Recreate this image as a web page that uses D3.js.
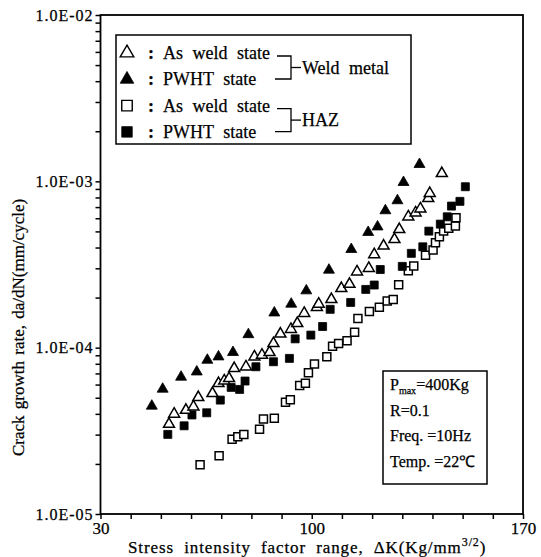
<!DOCTYPE html>
<html>
<head>
<meta charset="utf-8">
<script src="https://cdn.jsdelivr.net/npm/d3@7"></script>
<style>
  body { margin: 0; background: #fff; }
  svg text { font-family: "Liberation Serif", "Times New Roman", serif !important; fill: #000; stroke: #000; stroke-width: 0.25px; }
</style>
</head>
<body>
<svg id="chart" width="541" height="557" font-family="Liberation Serif, serif"></svg>
<script>
// weld metal, As weld state (open triangle)
const dkWeldAs = [52.7, 54.4, 58.3, 60.8, 62.4, 67.1, 69.1, 71.0, 72.6, 74.3, 78.2, 81.0, 83.5, 86.0, 87.3, 89.6, 93.1, 95.2, 97.5, 101.7, 102.3, 106.5, 109.8, 112.5, 115.0, 118.9, 120.7, 123.8, 127.4, 129.0, 132.0, 134.4, 136.0, 138.6, 139.1, 143.1]
const rateWeldAs = [3.47e-5, 3.99e-5, 4.21e-5, 4.41e-5, 5.02e-5, 5.31e-5, 6.10e-5, 6.32e-5, 6.53e-5, 7.51e-5, 7.68e-5, 8.82e-5, 9.03e-5, 9.37e-5, 1.06e-4, 1.21e-4, 1.29e-4, 1.40e-4, 1.61e-4, 1.75e-4, 1.83e-4, 1.95e-4, 2.27e-4, 2.41e-4, 2.86e-4, 3.00e-4, 3.63e-4, 4.09e-4, 4.48e-4, 5.14e-4, 6.12e-4, 6.47e-4, 6.84e-4, 7.90e-4, 8.47e-4, 1.117e-3]

// weld metal, PWHT state (filled triangle)
const dkWeldPwht = [47.0, 50.6, 56.7, 61.9, 65.4, 69.1, 73.9, 79.0, 87.6, 93.2, 98.2, 105.7, 113.1, 118.7, 121.8, 124.4, 128.4, 130.4, 135.7]
const rateWeldPwht = [4.46e-5, 5.64e-5, 6.66e-5, 7.16e-5, 8.42e-5, 8.82e-5, 9.37e-5, 1.20e-4, 1.62e-4, 1.83e-4, 2.20e-4, 2.93e-4, 3.90e-4, 4.94e-4, 5.33e-4, 6.67e-4, 7.66e-4, 9.86e-4, 1.265e-3]

// HAZ, As weld state (open square)
const dkHazAs = [63.0, 69.3, 73.6, 75.5, 77.5, 82.7, 84.0, 87.6, 91.3, 92.9, 96.0, 97.9, 98.9, 100.9, 105.0, 106.9, 108.9, 111.7, 114.2, 115.3, 119.1, 122.4, 125.0, 127.0, 128.8, 132.0, 133.8, 137.7, 140.2, 141.0, 142.3, 143.7, 145.4, 147.6, 147.8]
const rateHazAs = [1.98e-5, 2.24e-5, 2.81e-5, 2.91e-5, 3.01e-5, 3.23e-5, 3.72e-5, 3.76e-5, 4.69e-5, 4.86e-5, 5.93e-5, 6.10e-5, 7.06e-5, 7.97e-5, 8.82e-5, 1.02e-4, 1.06e-4, 1.10e-4, 1.24e-4, 1.50e-4, 1.65e-4, 1.75e-4, 1.91e-4, 1.95e-4, 2.39e-4, 2.90e-4, 3.10e-4, 3.60e-4, 3.86e-4, 4.27e-4, 4.64e-4, 5.02e-4, 5.22e-4, 5.38e-4, 6.04e-4]

// HAZ, PWHT state (filled square)
const dkHazPwht = [52.3, 57.7, 60.3, 65.2, 69.7, 73.3, 76.1, 77.9, 81.5, 87.3, 92.6, 94.5, 99.7, 103.6, 106.1, 112.9, 117.9, 120.7, 122.7, 130.0, 133.0, 136.8, 138.8, 142.6, 144.9, 146.3, 149.1, 150.9]
const rateHazPwht = [3.01e-5, 3.39e-5, 3.94e-5, 4.06e-5, 4.84e-5, 5.77e-5, 5.61e-5, 6.30e-5, 7.68e-5, 8.23e-5, 8.62e-5, 1.13e-4, 1.19e-4, 1.34e-4, 1.70e-4, 1.87e-4, 2.24e-4, 2.38e-4, 2.95e-4, 3.08e-4, 3.69e-4, 4.04e-4, 5.02e-4, 5.53e-4, 6.12e-4, 7.10e-4, 7.58e-4, 9.28e-4]

const xTicks = [30, 40, 50, 60, 70, 80, 90, 100, 110, 120, 130, 140, 150, 160, 170]
const xTickLabels = [30, 100, 170]
const yMajor = [1e-5, 1e-4, 1e-3, 1e-2]

const legendRows = ['As weld state', 'PWHT state', 'As weld state', 'PWHT state']
const legendGroups = ['Weld metal', 'HAZ']
const testLines = ['=400Kg', 'R=0.1', 'Freq. =10Hz', 'Temp. =22℃']

const svg = d3.select('#chart')

const x = d3.scaleLinear().domain([30, 170]).range([100.5, 523])
const y = d3.scaleLog().domain([1e-5, 1e-2]).range([514, 15])

const yTicks = []
yMajor.slice(0, 3).forEach(p => {
  for (let m = 1; m < 10; m++) yTicks.push(m * p)
})
yTicks.push(1e-2)

const fmtY = d => {
  const e = Math.round(Math.log10(d))
  return Math.abs(d - Math.pow(10, e)) / d < 1e-6 ? '1.0E-0' + (-e) : ''
}

const xAxis = svg.append('g')
  .attr('transform', `translate(0,${y(1e-5)})`)
  .call(d3.axisBottom(x)
    .tickValues(xTicks)
    .tickSize(5)
    .tickPadding(3)
    .tickFormat(d => xTickLabels.includes(d) ? d : ''))

const yAxis = svg.append('g')
  .attr('transform', `translate(${x(30)},0)`)
  .call(d3.axisLeft(y)
    .tickValues(yTicks)
    .tickSize(5)
    .tickPadding(2)
    .tickFormat(fmtY))

;[xAxis, yAxis].forEach(g => {
  g.attr('font-family', null)
  g.select('.domain').remove()
  g.selectAll('line').attr('stroke', '#000').attr('stroke-width', 1.5)
  g.selectAll('text')
    .style('font-size', '17px')
    .attr('fill', '#000')
})
yAxis.selectAll('text').style('font-size', '16px').attr('letter-spacing', '1px')

// frame
svg.append('rect')
  .attr('x', x(30)).attr('y', y(1e-2))
  .attr('width', x(170) - x(30)).attr('height', y(1e-5) - y(1e-2))
  .attr('fill', 'none').attr('stroke', '#000').attr('stroke-width', 1.8)

// axis titles
const xTitle = svg.append('text')
  .attr('x', 128).attr('y', 553)
  .style('font-size', '17px').attr('word-spacing', '5px').attr('letter-spacing', '0.9px')
xTitle.append('tspan').text('Stress intensity factor range,  ΔK(Kg/mm')
xTitle.append('tspan').attr('dy', -7).style('font-size', '12px').text('3/2')
xTitle.append('tspan').attr('dy', 7).text(')')

svg.append('text')
  .attr('transform', 'translate(24,456) rotate(-90)')
  .style('font-size', '17px').attr('word-spacing', '2px')
  .text('Crack growth rate,  da/dN(mm/cycle)')

// data
const tri = d3.symbol().type(d3.symbolTriangle).size(52)
const sq = d3.symbol().type(d3.symbolSquare).size(64)

const series = [
  { dk: dkHazAs, rate: rateHazAs, shape: sq, filled: false },
  { dk: dkHazPwht, rate: rateHazPwht, shape: sq, filled: true },
  { dk: dkWeldAs, rate: rateWeldAs, shape: tri, filled: false },
  { dk: dkWeldPwht, rate: rateWeldPwht, shape: tri, filled: true }
]

series.forEach(s => {
  svg.append('g')
    .selectAll('path')
    .data(s.dk.map((d, i) => [d, s.rate[i]]))
    .enter()
    .append('path')
    .attr('transform', d => `translate(${x(d[0])},${y(d[1])})`)
    .attr('d', s.shape)
    .attr('fill', s.filled ? '#000' : '#fff')
    .attr('stroke', '#000')
    .attr('stroke-width', s.filled ? 0.8 : 1.5)
})

// legend
const leg = svg.append('g')
leg.append('rect')
  .attr('x', 116).attr('y', 35).attr('width', 295).attr('height', 109)
  .attr('fill', '#fff').attr('stroke', '#000').attr('stroke-width', 1.5)

const legTri = d3.symbol().type(d3.symbolTriangle).size(80)
const legSq = d3.symbol().type(d3.symbolSquare).size(110)
const legShapes = [[legTri, false], [legTri, true], [legSq, false], [legSq, true]]
legendRows.forEach((t, i) => {
  const cy = 53 + i * 26.3
  leg.append('path')
    .attr('transform', `translate(127,${cy})`)
    .attr('d', legShapes[i][0])
    .attr('fill', legShapes[i][1] ? '#000' : '#fff')
    .attr('stroke', '#000').attr('stroke-width', legShapes[i][1] ? 0.8 : 1.4)
  leg.append('text').attr('x', 148).attr('y', cy + 6)
    .style('font-size', '18px').style('font-weight', 'bold').text(':')
  leg.append('text').attr('x', 163).attr('y', cy + 6)
    .style('font-size', '18px').attr('word-spacing', '5px').text(t)
})

legendGroups.forEach((g, i) => {
  const top = 56 + i * 52.6
  const bot = top + 23
  leg.append('path')
    .attr('d', `M277,${top}H291V${bot}H275`)
    .attr('fill', 'none').attr('stroke', '#000').attr('stroke-width', 1.3)
  leg.append('path')
    .attr('d', `M291,${(top + bot) / 2}H301`)
    .attr('stroke', '#000').attr('stroke-width', 1.3)
  leg.append('text').attr('x', 302).attr('y', (top + bot) / 2 + 6)
    .style('font-size', '18px').attr('word-spacing', '5px').text(g)
})

// test conditions box
const box = svg.append('g')
box.append('rect')
  .attr('x', 383).attr('y', 371).attr('width', 104).attr('height', 113)
  .attr('fill', '#fff').attr('stroke', '#000').attr('stroke-width', 1.5)

testLines.forEach((t, i) => {
  const by = 390 + i * 25.7
  const tx = box.append('text').attr('x', 390).attr('y', by).style('font-size', '16px')
  if (i === 0) {
    tx.append('tspan').text('P')
    tx.append('tspan').attr('dy', 4).style('font-size', '10px').text('max')
    tx.append('tspan').attr('dy', -4).text(t)
  } else {
    tx.text(t)
  }
})
</script>
</body>
</html>
